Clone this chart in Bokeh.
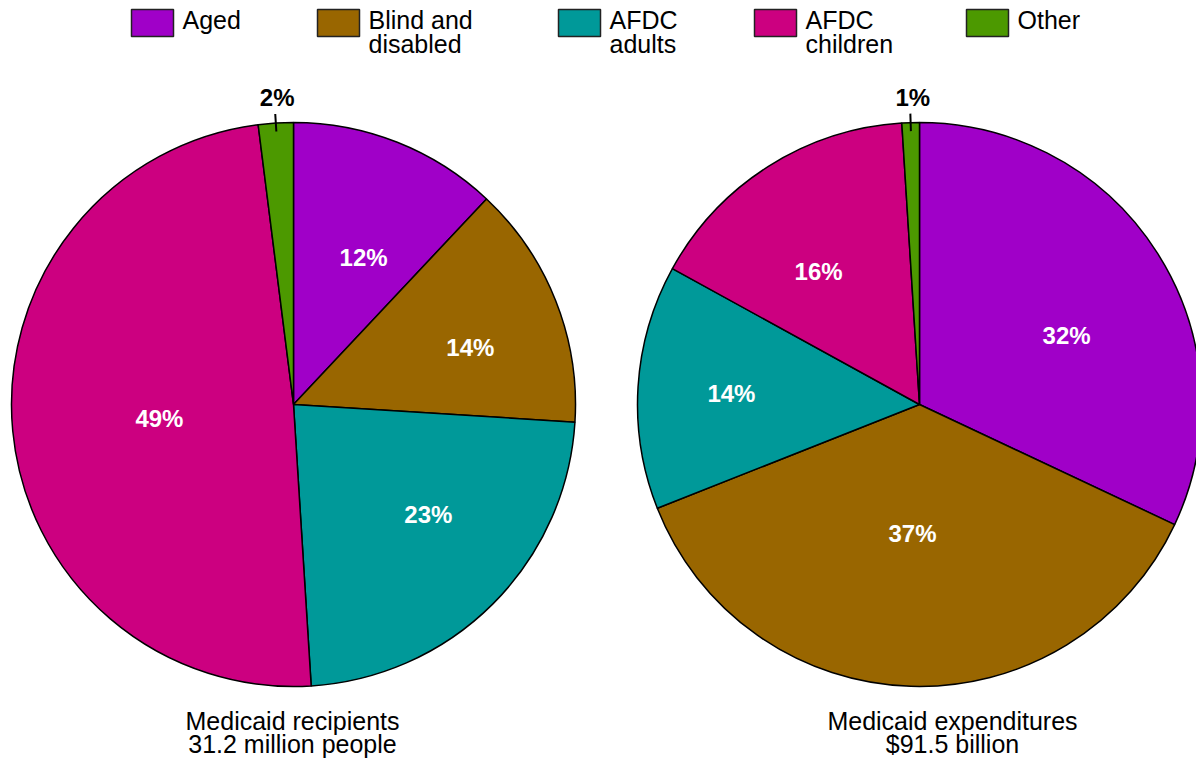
import math
from bokeh.plotting import figure
from bokeh.models import ColumnDataSource, Range1d
from bokeh.core.properties import value
from bokeh.embed import file_html
from bokeh.resources import INLINE

# ---------------- data ----------------
categories = ["Aged", "Blind and\ndisabled", "AFDC\nadults", "AFDC\nchildren", "Other"]
colors = ["#A000C8", "#996600", "#009999", "#CC0080", "#4C9900"]
recipients_pct = [12, 14, 23, 49, 2]
expenditures_pct = [32, 37, 14, 16, 1]
recipients_title = ["Medicaid recipients", "31.2 million people"]
expenditures_title = ["Medicaid expenditures", "$91.5 billion"]

# ---------------- layout / style ----------------
W, H = 1196, 761
R = 282
FONT = "Liberation Sans"
FS = "25px"
FS_B = "24px"
left_center = (293, 357)
right_center = (919, 357)
# label placement: radius fraction and angular nudge (degrees) from slice middle
left_label_r = [0.577, 0.659, 0.617, 0.478, None]
left_label_da = [-3.9, -3.75, 5.8, 0.6, 0]
right_label_r = [0.576, 0.458, 0.668, 0.592, None]
right_label_da = [-7.3, -1.3, 0.25, 4.8, 0]
legend_x = [131, 317, 558, 754, 966]
legend_box = (42, 27)
legend_top = 752
legend_text_dx = 51
legend_baselines = [742, 718]
title_x = [292, 952]
title_baselines = [41, 18]

p = figure(width=W, height=H, x_range=Range1d(0, W), y_range=Range1d(0, H),
           output_backend="svg", toolbar_location=None, min_border=0,
           x_axis_type=None, y_axis_type=None)
p.grid.visible = False
p.outline_line_color = None
p.background_fill_color = "white"
p.border_fill_color = "white"


def draw_pie(center, vals, label_r, label_da, title, tx):
    cx, cy = center
    total = float(sum(vals))
    starts, ends, mids = [], [], []
    cum = 0.0
    for v in vals:
        a0 = math.pi / 2 - 2 * math.pi * cum / total
        cum += v
        a1 = math.pi / 2 - 2 * math.pi * cum / total
        starts.append(a0)
        ends.append(a1)
        mids.append((a0 + a1) / 2)
    src = ColumnDataSource(dict(start=starts, end=ends, color=colors))
    p.wedge(x=cx, y=cy, radius=R, start_angle="start", end_angle="end",
            direction="clock", fill_color="color", line_color="black",
            line_width=1.5, source=src)

    ix, iy, itxt = [], [], []
    for v, m, rf, da in zip(vals, mids, label_r, label_da):
        if rf is not None:
            a = m + math.radians(da)
            ix.append(cx + rf * R * math.cos(a))
            iy.append(cy + rf * R * math.sin(a))
            itxt.append(f"{v}%")
        else:
            # outside label with a short leader tick
            p.segment(x0=[cx + 0.97 * R * math.cos(m)], y0=[cy + 0.97 * R * math.sin(m)],
                      x1=[cx + 1.032 * R * math.cos(m)], y1=[cy + 1.032 * R * math.sin(m)],
                      line_color="black", line_width=2)
            p.text(x=[cx + 1.09 * R * math.cos(m) + 3], y=[cy + 1.09 * R * math.sin(m)],
                   text=[f"{v}%"], text_align="center", text_baseline="alphabetic",
                   text_font=value(FONT), text_font_size=FS_B, text_font_style="bold",
                   text_color="black")
    p.text(x=ix, y=iy, text=itxt, text_align="center", text_baseline="middle",
           text_font=value(FONT), text_font_size=FS_B, text_font_style="bold",
           text_color="white")

    for line, b in zip(title, title_baselines):
        p.text(x=[tx], y=[b], text=[line], text_align="center",
               text_baseline="alphabetic", text_font=value(FONT),
               text_font_size=FS, text_color="black")


draw_pie(left_center, recipients_pct, left_label_r, left_label_da,
         recipients_title, title_x[0])
draw_pie(right_center, expenditures_pct, right_label_r, right_label_da,
         expenditures_title, title_x[1])

# legend
bw, bh = legend_box
p.quad(left=legend_x, right=[x + bw for x in legend_x],
       top=[legend_top] * len(legend_x), bottom=[legend_top - bh] * len(legend_x),
       fill_color=colors, line_color="#222222", line_width=1.5)
for x, cat in zip(legend_x, categories):
    for line, b in zip(cat.split("\n"), legend_baselines):
        p.text(x=[x + legend_text_dx], y=[b], text=[line], text_align="left",
               text_baseline="alphabetic", text_font=value(FONT),
               text_font_size=FS, text_color="black")

open("out.html", "w").write(file_html(p, INLINE))
